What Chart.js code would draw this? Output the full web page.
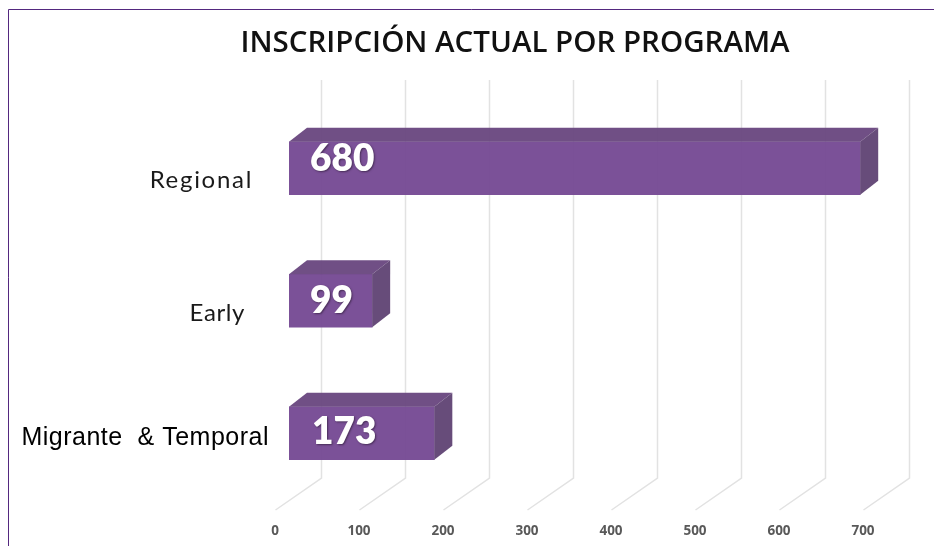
<!DOCTYPE html>
<html><head><meta charset="utf-8">
<style>html,body{margin:0;padding:0;background:#fff}#w{width:934px;height:546px;position:relative}</style>
<script src="https://cdn.jsdelivr.net/npm/chart.js@4"></script>
</head><body><div id="w"><canvas id="c" width="934" height="546"></canvas></div>
<script>
const titleText = 'INSCRIPCIÓN ACTUAL POR PROGRAMA';
const categories = ['Regional', 'Early', 'Migrante  & Temporal'];
const enrolment = [680, 99, 173];
const tickValues = [0, 100, 200, 300, 400, 500, 600, 700];

const depthX = 18, depthY = 14;
const gridShiftX = 32, gridTop = 80, gridFloor = 478, floorDX = 46, floorDY = 32;
const catRight = [253, 245, 269], catDY = [12, 13, 5];
const catFont = ['400 24px Lato', '400 24px Lato', '400 25px "Liberation Sans"'];
const catSpacing = ['1.7px', '0.6px', '0.5px'];
const catColor = ['#1a1a1a', '#1a1a1a', '#000'];
const valueDX = [21, 21, 23], valueDY = [-9, 0, -1];

const gridPlugin = {
  id: 'depthGrid',
  beforeDatasetsDraw(chart) {
    const c = chart.ctx, x = chart.scales.x;
    c.save();
    c.strokeStyle = '#e2e2e2'; c.lineWidth = 1.5;
    tickValues.forEach(v => {
      const px = Math.round(x.getPixelForValue(v)) + gridShiftX + .5;
      c.beginPath(); c.moveTo(px, gridTop); c.lineTo(px, gridFloor);
      c.lineTo(px - floorDX, gridFloor + floorDY); c.stroke();
    });
    c.restore();
  }
};
const framePlugin = {
  id: 'frame',
  beforeDraw(chart) {
    const c = chart.ctx;
    c.save();
    c.strokeStyle = '#54287f'; c.lineWidth = 1;
    c.beginPath(); c.moveTo(8.5, 546); c.lineTo(8.5, 9.5); c.lineTo(934, 9.5); c.stroke();
    c.restore();
  }
};
const boxPlugin = {
  id: 'box3d',
  afterDatasetsDraw(chart) {
    const c = chart.ctx, meta = chart.getDatasetMeta(0);
    c.save();
    meta.data.forEach((b, i) => {
      const l = b.base, r = b.x, t = b.y - b.height / 2, bt = b.y + b.height / 2;
      c.fillStyle = 'rgba(104,70,126,0.95)';
      c.beginPath(); c.moveTo(l, t); c.lineTo(l + depthX, t - depthY); c.lineTo(r + depthX, t - depthY); c.lineTo(r, t); c.closePath(); c.fill();
      c.fillStyle = 'rgba(98,70,118,0.97)';
      c.beginPath(); c.moveTo(r, t); c.lineTo(r + depthX, t - depthY); c.lineTo(r + depthX, bt - depthY); c.lineTo(r, bt); c.closePath(); c.fill();
      c.font = '800 37px Lato';
      c.letterSpacing = '0px';
      c.textAlign = 'left'; c.textBaseline = 'middle';
      c.shadowColor = 'rgba(50,30,60,0.7)'; c.shadowBlur = 2; c.shadowOffsetX = 1; c.shadowOffsetY = 1;
      c.fillStyle = '#fff';
      c.fillText(String(enrolment[i]), l + valueDX[i], b.y + valueDY[i]);
      c.shadowColor = 'transparent';
      c.font = catFont[i];
      c.letterSpacing = catSpacing[i];
      c.textAlign = 'right';
      c.fillStyle = catColor[i];
      c.fillText(categories[i], catRight[i], b.y + catDY[i]);
    });
    c.restore();
  }
};

new Chart(document.getElementById('c'), {
  type: 'bar',
  data: {
    labels: categories,
    datasets: [{ data: enrolment, backgroundColor: 'rgba(118,74,148,0.96)', borderWidth: 0, barThickness: 53 }]
  },
  options: {
    indexAxis: 'y',
    responsive: false,
    animation: false,
    layout: { padding: { left: 153, right: 57, top: 0, bottom: 0 } },
    plugins: {
      legend: { display: false },
      tooltip: { enabled: false },
      title: {
        display: true, text: titleText, color: '#111',
        font: { family: 'Open Sans', size: 29.5, weight: '600' },
        padding: { top: 26, bottom: 40.6 }
      }
    },
    scales: {
      x: {
        type: 'linear', min: 0, max: 700,
        grid: { display: false }, border: { display: false },
        afterFit(s) { s.height = 46.5; },
        ticks: {
          stepSize: 100, maxRotation: 0, autoSkip: false, labelOffset: -14, padding: 16,
          color: '#595959', font: { family: 'Open Sans', size: 13.5, weight: '700' }
        }
      },
      y: {
        grid: { display: false }, border: { display: false },
        ticks: { display: false },
        afterFit(s) { s.width = 136; }
      }
    }
  },
  plugins: [framePlugin, gridPlugin, boxPlugin]
});
</script></body></html>
